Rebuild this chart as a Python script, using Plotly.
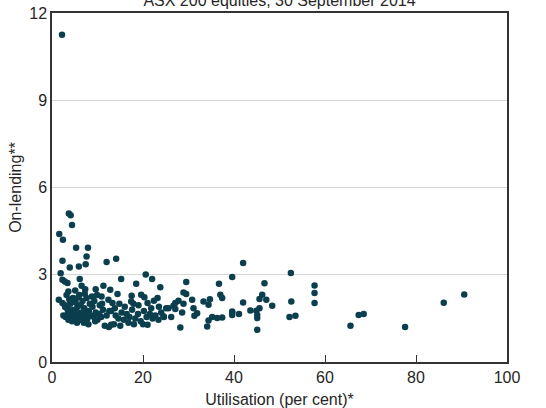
import plotly.graph_objects as go

# Utilisation (per cent) and on-lending values
utilisation = [
    2.2, 3.7, 4.1, 4.4, 1.6, 2.4, 5.3, 7.9, 7.6, 2.3, 7.4, 5.9, 3.9, 12.0, 14.1,
    1.9, 2.3, 2.8, 3.4, 6.1, 15.2, 20.6, 22.0, 18.5, 1.5, 2.3, 6.5, 3.6, 5.1, 7.3,
    9.6, 11.3, 10.9, 12.4, 7.6, 5.8, 4.3, 2.9, 12.8, 14.4, 17.5, 19.6, 20.3, 23.2,
    22.4, 13.3, 14.8, 17.4, 21.0, 25.1, 23.8,
    2.8, 3.3, 3.5, 3.9, 4.2, 4.5, 4.8, 5.0, 5.3, 5.6, 5.9, 6.2, 6.5, 6.8, 7.1, 7.4,
    7.8, 8.1, 8.5, 8.9, 9.2, 9.6, 10.0, 10.4, 10.8, 11.2, 11.6, 3.0, 3.6, 4.0, 4.6,
    5.2, 6.0, 6.7, 7.2, 8.3, 8.8, 9.3, 9.9, 10.5, 2.5, 3.2, 3.8, 5.5, 7.0, 8.0, 9.5,
    4.4, 6.3, 12.0, 12.6, 11.0,
    13.0, 14.0, 14.6, 15.3, 15.8, 16.4, 17.0, 17.6, 18.3, 18.9, 19.5, 20.2, 20.8,
    21.5, 22.1, 22.7, 23.4, 24.0, 24.6, 13.6, 15.0, 16.8, 18.0, 20.0, 12.5, 16.0,
    19.0, 21.8, 13.8, 17.9, 23.5, 21.0, 13.0,
    29.5, 36.7, 39.6, 28.9, 29.5, 37.0, 37.4, 30.8, 33.3, 34.7, 34.4, 27.8, 27.1,
    26.7, 28.9, 25.6, 27.1, 28.6, 31.1, 31.9, 31.3, 24.5, 26.2, 39.6, 35.2, 36.3,
    37.4, 34.4, 34.1, 28.2,
    42.0, 52.5, 46.7, 46.2, 45.6, 47.1, 42.0, 48.4, 45.6, 44.9, 43.6, 39.6, 39.6,
    41.1, 45.1, 45.1, 52.2, 53.5, 45.1,
    57.7, 57.7, 57.7, 52.6, 65.6, 67.4, 68.5, 77.6, 86.1, 90.6,
]
on_lending = [
    11.25, 5.11, 5.05, 4.71, 4.40, 4.20, 3.93, 3.93, 3.63, 3.48, 3.36, 3.28, 3.25, 3.44, 3.55,
    3.05, 2.83, 2.77, 2.72, 2.85, 2.85, 3.01, 2.85, 2.69, 2.14, 2.03, 2.62, 2.42, 2.46, 2.50,
    2.50, 2.62, 2.25, 2.14, 2.20, 2.23, 2.14, 1.89, 2.48, 2.34, 2.28, 2.31, 2.23, 2.20,
    2.11, 2.03, 2.00, 2.08, 2.03, 1.85, 2.57,
    1.95, 1.85, 1.70, 1.55, 1.65, 1.80, 1.60, 1.50, 1.75, 1.90, 1.60, 1.45, 1.70, 1.55, 1.85, 1.65,
    1.50, 1.75, 1.60, 1.90, 1.55, 1.70, 1.45, 1.65, 1.55, 1.80, 1.25, 1.55, 1.45, 2.00, 2.20,
    2.05, 2.30, 2.10, 2.35, 2.00, 2.25, 2.10, 2.30, 1.95, 1.60, 2.30, 2.15, 1.35, 1.35, 1.30, 1.40,
    1.40, 1.95, 1.60, 1.75, 2.00,
    1.75, 1.60, 1.50, 1.70, 1.45, 1.65, 1.55, 1.80, 1.50, 1.65, 1.40, 1.75, 1.55,
    1.65, 1.50, 1.60, 1.45, 1.70, 1.55, 1.30, 1.25, 1.35, 1.30, 1.30, 1.20, 1.90,
    1.95, 1.85, 1.85, 2.00, 1.90, 1.28, 1.28,
    2.75, 2.69, 2.92, 2.39, 2.34, 2.31, 2.20, 2.14, 2.08, 2.16, 1.97, 2.11, 2.03,
    1.93, 2.00, 1.85, 1.82, 1.70, 1.85, 1.68, 1.59, 1.57, 1.55, 1.70, 1.55, 1.51,
    1.53, 1.43, 1.22, 1.19,
    3.40, 3.06, 2.71, 2.31, 2.17, 2.14, 2.05, 1.93, 1.85, 1.76, 1.77, 1.74, 1.62,
    1.65, 1.62, 1.51, 1.55, 1.59, 1.11,
    2.63, 2.37, 2.03, 2.08, 1.25, 1.62, 1.65, 1.20, 2.04, 2.32,
]
x_ticks = [0, 20, 40, 60, 80, 100]
y_ticks = [0, 3, 6, 9, 12]

font = "Arial, Liberation Sans, sans-serif"
ink = "#262626"
fs = 16

fig = go.Figure(go.Scatter(
    x=utilisation, y=on_lending, mode="markers",
    marker=dict(size=6.5, color="#0b3f4e", line=dict(width=0)),
    hoverinfo="skip",
))

fig.update_layout(
    width=546, height=408,
    margin=dict(l=52, r=39, t=13, b=46),
    paper_bgcolor="white", plot_bgcolor="white",
    showlegend=False,
    font=dict(family=font, size=fs, color=ink),
    title=dict(text="ASX 200 equities, 30 September 2014", x=0.5, xref="paper",
               y=0.999, yref="container", yanchor="middle", automargin=False,
               font=dict(family=font, size=fs, color=ink)),
)
fig.update_xaxes(
    range=[0, 100], tickvals=x_ticks, ticktext=[str(v) for v in x_ticks],
    showgrid=False, zeroline=False, automargin=False,
    showline=True, linecolor="#333333", linewidth=1.5, mirror=True,
    ticks="inside", ticklen=7, tickcolor="#333333", tickwidth=1,
    tickfont=dict(size=fs, color=ink),
    title=dict(text="Utilisation (per cent)*", font=dict(size=fs, color=ink), standoff=12),
)
fig.update_yaxes(
    range=[0, 12], tickvals=y_ticks, ticktext=[str(v) for v in y_ticks],
    showgrid=True, gridcolor="#d6d6d6", gridwidth=1.2, zeroline=False, automargin=False,
    showline=True, linecolor="#333333", linewidth=1.5, mirror=True,
    ticks="", tickfont=dict(size=fs, color=ink),
    title=dict(text="On-lending**", font=dict(size=fs, color=ink), standoff=4),
)

fig.write_html("out.html", config={"displayModeBar": False},
               post_script="document.body.style.margin='0';")
